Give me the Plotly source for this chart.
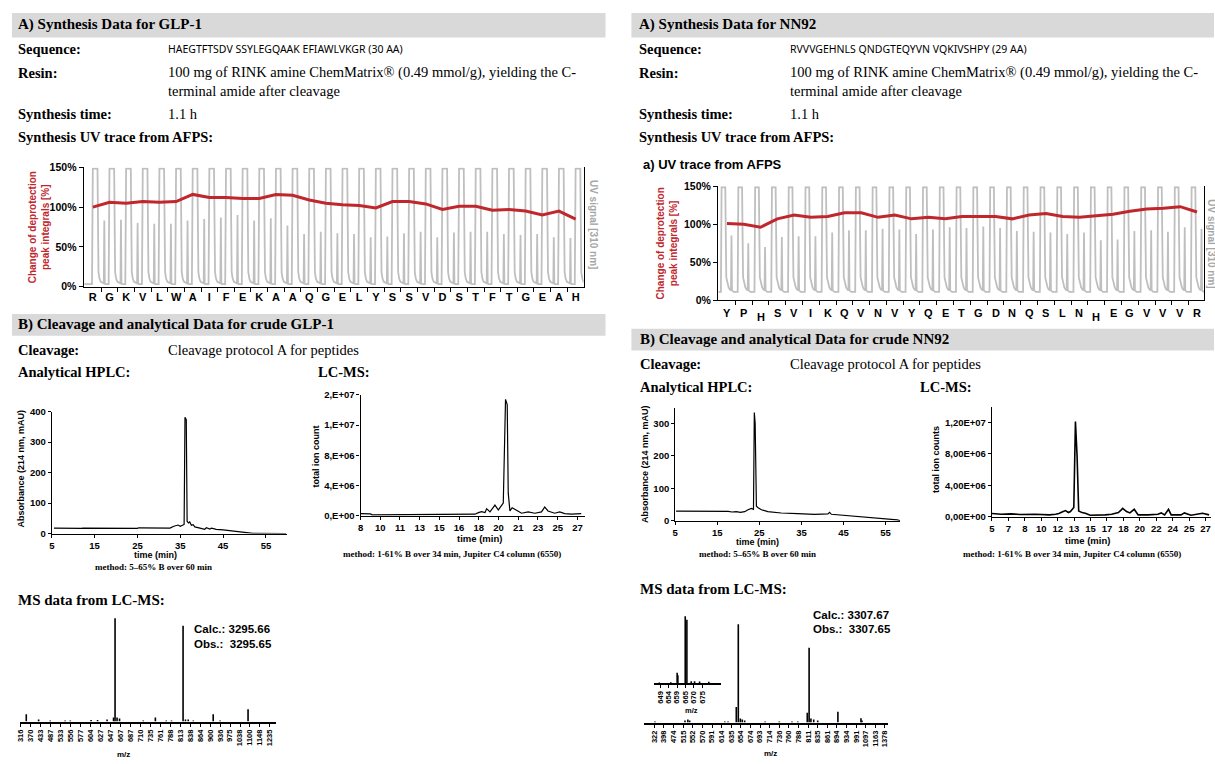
import numpy as np
import plotly.graph_objects as go

W, H = 1215, 764
SERIF = "Liberation Serif"
SANS = "Liberation Sans"
RED = "#c0272d"
UV_GREY = "#bfbfbf"

# ---------------- synthesis (AFPS) data ----------------
GLP1_RESIDUES = list("RGKVLWAIFEKAAQGELYSSVDSTFTGEAH")
GLP1_DEPROT = [100, 106, 105, 107, 106, 107, 116, 112, 112, 111, 111, 116, 115, 109, 105,
               103, 102, 99, 107, 107, 104, 97, 101, 101, 96, 97, 95, 90, 95, 85]
GLP1_UV_SECOND = [83, 84, 80, 79, 79, 83, 85, 87, 90, 83, 86, 77, 66, 69, 67,
                  66, 62, 63, 67, 69, 62, 68, 69, 69, 66, 65, 66, 62, 61, 48]
GLP1_UV_BASE = 3

NN92_RESIDUES = list("YPHSVIKQVNVYQETGDNQSLNHEGVVVR")
NN92_DEPROT = [101, 100, 96, 107, 112, 109, 110, 115, 115, 109, 112, 107, 109, 107, 110,
               110, 110, 107, 112, 114, 110, 109, 111, 113, 117, 120, 121, 123, 116]
NN92_UV_SECOND = [85, 75, 70, 83, 84, 84, 89, 92, 92, 94, 93, 87, 93, 96, 95,
                  97, 95, 91, 90, 89, 87, 89, 79, 80, 91, 92, 90, 96, 94]
NN92_UV_BASE = 11

# one deprotection cycle of the 310 nm trace (offset from residue position, level)
# "T" saturated detector, "S" second deprotection peak, "B" baseline
GLP1_CYCLE_DX = [-0.05, 0.00, 0.28, 0.34, 0.40, 0.48, 0.58, 0.66, 0.69, 0.72, 0.78, 0.95]
GLP1_CYCLE_LV = ["B", "T", "T", 18, 10, 6, 4.5, 4, "S", 4, "B", "B"]
NN92_CYCLE_DX = [-0.36, -0.32, -0.10, -0.04, 0.02, 0.10, 0.18, 0.24, 0.27, 0.30, 0.40, 0.64]
NN92_CYCLE_LV = ["B", "T", "T", 30, 22, 17, 14, 13, "S", 13, "B", "B"]

# ---------------- analytical HPLC ----------------
HPLC_GLP1_T = [5.5, 8.0, 8.3, 12.0, 12.3, 20, 25.0, 25.3, 30, 32.6, 33.5, 34.5, 35.0, 35.9, 36.1,
               36.4, 36.6, 36.9, 37.2, 37.6, 38.0, 38.4, 39.6, 40.7, 41.1, 41.9, 42.3, 43.4, 45.0,
               46.6, 48.1, 49.7, 52.0, 59.7]
HPLC_GLP1_A = [18, 17, 19, 17, 18, 17, 17, 19, 17, 18, 24, 28, 24, 30, 381,
               373, 40, 35, 38, 27, 29, 22, 18, 14, 19, 15, 18, 14, 12,
               10, 7.5, 4, 1, 0]
HPLC_NN92_T = [5.2, 10, 15, 17.6, 18.5, 19.5, 20.5, 21.5, 22.3, 23.1, 23.6, 23.8, 24.0, 24.3,
               24.7, 25.5, 27.0, 30.2, 34.1, 38.1, 41.3, 41.7, 42.1, 45.2, 49.9, 53.8, 57.8, 58.5]
HPLC_NN92_A = [30, 30, 30, 29, 27, 28, 26, 28, 34, 38, 35, 333, 300, 45,
               40, 34, 28, 24, 22, 20, 21, 26, 20, 17, 12, 8, 3, 0]

# ---------------- LC-MS total ion count ----------------
LCMS_GLP1_TICKTEXT = ["8", "10", "11", "13", "15", "16", "18", "20", "21", "23", "25", "27"]
LCMS_GLP1_T = [8.0, 8.88, 9.03, 11.0, 14.63, 15.81, 16.5, 17.57, 18.16, 18.46, 18.75, 19.05, 19.19,
               19.49, 19.93, 20.23, 20.52, 20.67, 20.87, 21.02, 21.11, 21.26, 21.46, 21.70, 21.99,
               22.29, 22.88, 23.47, 24.06, 24.35, 24.64, 25.23, 25.68, 26.12, 26.71, 27.30, 27.59]
LCMS_GLP1_C = [3.0e5, 2.6e5, 1.3e5, 1.3e5, 1.3e5, 2.2e5, 1.3e5, 1.3e5, 2.2e5, 4.3e5, 5.6e5, 4.3e5, 9.5e5,
               5.2e5, 1.43e6, 7.8e5, 1.3e6, 1.7e6, 1.54e7, 1.47e7, 3.0e6, 6.5e5, 1.08e6, 8.6e5, 5.2e5,
               3.5e5, 5.2e5, 3.5e5, 5.2e5, 1.17e6, 6.5e5, 3.5e5, 5.2e5, 3.0e5, 2.2e5, 2.6e5, 3.0e5]
LCMS_NN92_TICKTEXT = ["5", "7", "8", "10", "12", "13", "15", "17", "18", "20", "22", "24", "25", "27"]
LCMS_NN92_T = [5.0, 6.0, 7.0, 8.0, 9.5, 11.0, 11.67, 12.01, 12.4, 12.70, 13.0, 13.22, 13.57, 13.74,
               13.91, 14.08, 14.43, 14.77, 15.29, 16.16, 16.85, 17.54, 18.23, 18.57, 18.68, 19.09,
               19.44, 19.89, 20.30, 21.34, 22.37, 22.72, 23.07, 23.48, 23.76, 24.79, 25.14, 25.83,
               27.04, 27.73]
LCMS_NN92_C = [4.2e5, 3.3e5, 3.8e5, 3.0e5, 3.3e5, 2.5e5, 3.3e5, 4.2e5, 6.5e5, 8.0e5, 5.5e5, 6.7e5, 1.2e6,
               1.21e7, 7.8e6, 7.5e5, 5.4e5, 4.6e5, 2.0e5, 2.0e5, 2.5e5, 3.3e5, 5.4e5, 9.2e5, 1.08e6,
               6.7e5, 5.0e5, 9.6e5, 2.5e5, 2.5e5, 3.3e5, 5.0e5, 2.5e5, 9.6e5, 2.5e5, 2.5e5, 5.0e5,
               2.1e5, 4.6e5, 2.5e5]

# ---------------- MS spectra (m/z, relative intensity) ----------------
MS_GLP1_TICKS = [316, 370, 433, 487, 533, 556, 577, 604, 627, 647, 667, 687, 710, 735, 761,
                 788, 813, 838, 864, 900, 936, 975, 1038, 1100, 1148, 1235]
MS_GLP1_MZ = [345, 419, 484, 543, 555, 605, 620, 640, 653, 656, 660, 665, 717, 748, 777,
              791, 820, 826, 833, 846, 911, 936, 1088]
MS_GLP1_INT = [7, 2, 1, 1, 1, 1.5, 1.5, 2, 4, 100, 4, 3, 1, 4, 1,
               1, 92.7, 2, 2, 1, 7, 1, 12]

MS_NN92_TICKS = [322, 398, 474, 515, 552, 570, 591, 614, 635, 654, 674, 693, 714, 736, 760,
                 788, 811, 835, 861, 894, 934, 991, 1097, 1163, 1378]
MS_NN92_MZ = [327, 522, 533, 540, 621, 628, 645, 649, 653, 657, 662, 704, 736, 769, 786,
              809, 813.5, 818, 825, 835, 898, 1044, 1055]
MS_NN92_INT = [1, 2, 3, 2, 1, 1, 15.7, 100, 4, 3, 2, 1, 1, 1, 1,
               10, 76, 4, 3, 2, 11, 4.5, 2]

MS_NN92_INSET_TICKS = [649, 654, 659, 665, 670, 675]
MS_NN92_INSET_MZ = [648.4, 655.3, 659.1, 659.6, 664.9, 665.9, 668.5, 670.5, 673.5, 679]
MS_NN92_INSET_INT = [1, 1.5, 15.6, 12, 100, 95, 3, 3, 2.5, 2]


# ---------------- helpers ----------------
def px(x):
    return x / W


def py(y):
    return 1 - y / H


ann, shapes, axes = [], [], {}


def text(x, y, s, size, family=SERIF, bold=False, color="black", anchor="left", angle=0):
    ann.append(dict(x=px(x), y=py(y), xref="paper", yref="paper",
                    text=f"<b>{s}</b>" if bold else s, showarrow=False,
                    xanchor=anchor, yanchor="middle", textangle=angle,
                    font=dict(family=family, size=size, color=color)))


def header_bar(x0, x1, y0, y1):
    shapes.append(dict(type="rect", xref="paper", yref="paper", x0=px(x0), x1=px(x1),
                       y0=py(y1), y1=py(y0), fillcolor="#d9d9d9", line=dict(width=0), layer="below"))


def ax_id(n):
    return "" if n == 1 else str(n)


def add_axes(n, xbox, ybox, xr, yr, xkw=None, ykw=None):
    base = dict(showgrid=False, zeroline=False, showline=True, linecolor="black", linewidth=1.2,
                ticks="outside", ticklen=3, tickcolor="black", fixedrange=True,
                tickfont=dict(family=SANS, size=9.5, color="black", weight="bold"))
    xa = dict(base, domain=[px(xbox[0]), px(xbox[1])], range=xr, anchor="y" + ax_id(n))
    ya = dict(base, domain=[py(ybox[1]), py(ybox[0])], range=yr, anchor="x" + ax_id(n))
    xa.update(xkw or {})
    ya.update(ykw or {})
    axes["xaxis" + ax_id(n)] = xa
    axes["yaxis" + ax_id(n)] = ya


def line(n, x, y, color="black", width=1.2):
    fig.add_trace(go.Scatter(x=x, y=y, mode="lines", line=dict(color=color, width=width),
                             xaxis="x" + ax_id(n), yaxis="y" + ax_id(n), hoverinfo="skip"))


def uv_trace(second, dx, lv, base, start, top=148.5):
    xs, ys = [start], [base]
    for i, h in enumerate(second):
        for d, l in zip(dx, lv):
            xs.append(i + d)
            ys.append({"B": base, "T": top, "S": h}[l] if isinstance(l, str) else l)
    return xs, ys


def mz_pos(mz, ticks):
    idx = np.arange(len(ticks), dtype=float)
    mz = np.asarray(mz, dtype=float)
    pos = np.interp(mz, ticks, idx)
    lo, hi = mz < ticks[0], mz > ticks[-1]
    pos[lo] = (mz[lo] - ticks[0]) / (ticks[1] - ticks[0])
    pos[hi] = len(ticks) - 1 + (mz[hi] - ticks[-1]) / (ticks[-1] - ticks[-2])
    return pos


def sticks(n, pos, inten, width=1.6):
    xs, ys = [], []
    for p, v in zip(pos, inten):
        xs += [p, p, None]
        ys += [0, v, None]
    line(n, xs, ys, width=width)


fig = go.Figure()

# ================= text blocks =================
for x0, x1, lx, vx, name, seq in [
        (8, 604, 12, 163, "GLP-1", "HAEGTFTSDV SSYLEGQAAK EFIAWLVKGR (30 AA)"),
        (630, 1215, 636, 787, "NN92", "RVVVGEHNLS QNDGTEQYVN VQKIVSHPY (29 AA)")]:
    header_bar(x0, x1, 7, 32)
    text(lx, 19, f"A) Synthesis Data for {name}", 15, bold=True)
    text(lx, 44, "Sequence:", 14.5, bold=True)
    text(vx, 44, seq, 10.5, family="Noto Sans")
    text(lx, 68, "Resin:", 14.5, bold=True)
    text(vx, 68, "100 mg of RINK amine ChemMatrix® (0.49 mmol/g), yielding the C-", 14.5)
    text(vx, 86, "terminal amide after cleavage", 14.5)
    text(lx, 110, "Synthesis time:", 14.5, bold=True)
    text(vx, 110, "1.1 h", 14.5)
    text(lx, 133, "Synthesis UV trace from AFPS:", 14.5, bold=True)

for x0, x1, yb, lx, vx, lcx, name in [(8, 604, 324, 12, 163, 313, "GLP-1"),
                                       (630, 1215, 339, 637, 787, 918, "NN92")]:
    header_bar(x0, x1, yb - 11, yb + 11)
    text(lx, yb, f"B) Cleavage and analytical Data for crude {name}", 15, bold=True)
    text(lx, yb + 25, "Cleavage:", 14.5, bold=True)
    text(vx, yb + 25, "Cleavage protocol A for peptides", 14.5)
    text(lx, yb + 48, "Analytical HPLC:", 14.5, bold=True)
    text(lcx, yb + 48, "LC-MS:", 14.5, bold=True)

text(12, 603, "MS data from LC-MS:", 15, bold=True)
text(637, 592, "MS data from LC-MS:", 15, bold=True)
text(640, 161, "a) UV trace from AFPS", 13, family=SANS, bold=True)

# ================= UV traces =================
uv_y = dict(tickvals=[0, 50, 100, 150], ticktext=["0%", "50%", "100%", "150%"], mirror=True,
            ticklen=4, tickfont=dict(family=SANS, size=10.5, color="black", weight="bold"))

# GLP-1
add_axes(1, (80, 582), (164, 285), [-0.55, 29.48], [0, 150],
         xkw=dict(tickvals=list(range(len(GLP1_RESIDUES))), ticktext=GLP1_RESIDUES, ticks="",
                  tickfont=dict(family=SANS, size=11, color="black", weight="bold"),
                  minor=dict(tickvals=[i + 0.5 for i in range(len(GLP1_RESIDUES) - 1)],
                             ticks="outside", ticklen=4, tickcolor="black")),
         ykw=uv_y)
gx, gy = uv_trace(GLP1_UV_SECOND, GLP1_CYCLE_DX, GLP1_CYCLE_LV, GLP1_UV_BASE, -0.5)
line(1, gx, gy, UV_GREY, 1.8)
line(1, list(range(len(GLP1_DEPROT))), GLP1_DEPROT, RED, 3)
text(36, 225, "Change of deprotection<br>peak integrals [%]", 10, family=SANS, bold=True,
     color=RED, anchor="center", angle=-90)
text(592, 222, "UV signal [310 nm]", 10, family=SANS, bold=True, color="#a6a6a6",
     anchor="center", angle=90)

# NN92
add_axes(2, (717, 1205), (183, 299), [-0.53, 28.42], [0, 150],
         xkw=dict(tickvals=list(range(len(NN92_RESIDUES))), ticktext=[""] * len(NN92_RESIDUES),
                  ticks="",
                  minor=dict(tickvals=[i + 0.5 for i in range(len(NN92_RESIDUES) - 1)],
                             ticks="outside", ticklen=4, tickcolor="black")),
         ykw=uv_y)
nx, ny = uv_trace(NN92_UV_SECOND, NN92_CYCLE_DX, NN92_CYCLE_LV, NN92_UV_BASE, -0.5)
line(2, nx, ny, UV_GREY, 1.8)
line(2, list(range(len(NN92_DEPROT))), NN92_DEPROT, RED, 3)
for i, r in enumerate(NN92_RESIDUES):
    ann.append(dict(x=i, y=py(316 if r == "H" else 312), xref="x2", yref="paper", text=f"<b>{r}</b>",
                    showarrow=False, xanchor="center", yanchor="middle",
                    font=dict(family=SANS, size=11, color="black")))
text(666, 241, "Change of deprotection<br>peak integrals [%]", 10, family=SANS, bold=True,
     color=RED, anchor="center", angle=-90)
text(1213, 241, "UV signal [310 nm]", 10, family=SANS, bold=True, color="#a6a6a6",
     anchor="center", angle=90)

# ================= HPLC =================
add_axes(3, (48, 284.5), (412, 536), [5, 60], [0, 400],
         xkw=dict(tickvals=[5, 15, 25, 35, 45, 55]), ykw=dict(tickvals=[0, 100, 200, 300, 400]))
line(3, HPLC_GLP1_T, HPLC_GLP1_A)
text(17, 470, "Absorbance (214 nm, mAU)", 9, family=SANS, bold=True, anchor="center", angle=-90)
text(152, 558, "time (min)", 9, family=SANS, bold=True, anchor="center")
text(150, 570, "method: 5–65% B over 60 min", 9, bold=True, anchor="center")

add_axes(5, (674, 900), (408, 523), [5, 58.5], [0, 348],
         xkw=dict(tickvals=[5, 15, 25, 35, 45, 55]), ykw=dict(tickvals=[0, 100, 200, 300]))
line(5, HPLC_NN92_T, HPLC_NN92_A)
text(643, 465, "Absorbance (214 nm, mAU)", 9, family=SANS, bold=True, anchor="center", angle=-90)
text(757, 545, "time (min)", 9, family=SANS, bold=True, anchor="center")
text(757, 557, "method: 5–65% B over 60 min", 9, bold=True, anchor="center")

# ================= LC-MS =================
g_step = 1.75
add_axes(4, (358, 583.7), (395, 518), [8, 8 + g_step * 11.4], [0, 1.6e7],
         xkw=dict(tickvals=[8 + g_step * k for k in range(len(LCMS_GLP1_TICKTEXT))],
                  ticktext=LCMS_GLP1_TICKTEXT),
         ykw=dict(tickvals=[0, 4e6, 8e6, 1.2e7, 1.6e7],
                  ticktext=["0,E+00", "4,E+06", "8,E+06", "1,E+07", "2,E+07"]))
line(4, LCMS_GLP1_T, LCMS_GLP1_C)
text(313, 458, "total ion count", 9, family=SANS, bold=True, anchor="center", angle=-90)
text(477, 541, "time (min)", 9.5, family=SANS, bold=True, anchor="center")
text(450, 557, "method: 1-61% B over 34 min, Jupiter C4 column (6550)", 9, bold=True, anchor="center")

n_step = 1.72
add_axes(6, (992, 1212), (407, 519), [5, 5 + n_step * 13.33], [0, 1.4e7],
         xkw=dict(tickvals=[5 + n_step * k for k in range(len(LCMS_NN92_TICKTEXT))],
                  ticktext=LCMS_NN92_TICKTEXT),
         ykw=dict(tickvals=[0, 4e6, 8e6, 1.2e7],
                  ticktext=["0,00E+00", "4,00E+06", "8,00E+06", "1,20E+07"]))
line(6, LCMS_NN92_T, LCMS_NN92_C, width=1.6)
text(936, 461, "total ion counts", 9, family=SANS, bold=True, anchor="center", angle=-90)
text(1088, 543, "time (min)", 9.5, family=SANS, bold=True, anchor="center")
text(1072, 557, "method: 1-61% B over 34 min, Jupiter C4 column (6550)", 9, bold=True, anchor="center")

# ================= MS spectra =================
ms_x = dict(tickangle=-90, linewidth=2, ticklen=3,
            tickfont=dict(family=SANS, size=7.5, color="black", weight="bold"))
ms_y = dict(visible=False)

add_axes(7, (16, 273), (617, 727), [-0.1, 25.6], [0, 104.8],
         xkw=dict(ms_x, tickvals=list(range(len(MS_GLP1_TICKS))),
                  ticktext=[str(t) for t in MS_GLP1_TICKS]), ykw=ms_y)
sticks(7, mz_pos(MS_GLP1_MZ, MS_GLP1_TICKS), MS_GLP1_INT)
text(120, 760, "m/z", 8, family=SANS, bold=True, anchor="center")
text(189, 633, "Calc.: 3295.66", 11.5, family=SANS, bold=True)
text(189, 648, "Obs.:  3295.65", 11.5, family=SANS, bold=True)

add_axes(8, (643, 888), (623, 728), [-1.04, 24.35], [0, 105],
         xkw=dict(ms_x, tickvals=list(range(len(MS_NN92_TICKS))),
                  ticktext=[str(t) for t in MS_NN92_TICKS]), ykw=ms_y)
sticks(8, mz_pos(MS_NN92_MZ, MS_NN92_TICKS), MS_NN92_INT)
text(770, 759, "m/z", 8, family=SANS, bold=True, anchor="center")
text(810, 619, "Calc.: 3307.67", 11.5, family=SANS, bold=True)
text(810, 633, "Obs.:  3307.65", 11.5, family=SANS, bold=True)

add_axes(9, (653, 720), (615, 688), [-0.71, 7.26], [0, 107.4],
         xkw=dict(ms_x, tickvals=list(range(len(MS_NN92_INSET_TICKS))),
                  ticktext=[str(t) for t in MS_NN92_INSET_TICKS]), ykw=ms_y)
sticks(9, mz_pos(MS_NN92_INSET_MZ, MS_NN92_INSET_TICKS), MS_NN92_INSET_INT)
text(690, 716, "m/z", 7.5, family=SANS, bold=True, anchor="center")

fig.update_layout(width=W, height=H, margin=dict(l=0, r=0, t=0, b=0), showlegend=False,
                  paper_bgcolor="white", plot_bgcolor="white",
                  annotations=ann, shapes=shapes, **axes)
fig.write_html("out.html", config={"displayModeBar": False})
